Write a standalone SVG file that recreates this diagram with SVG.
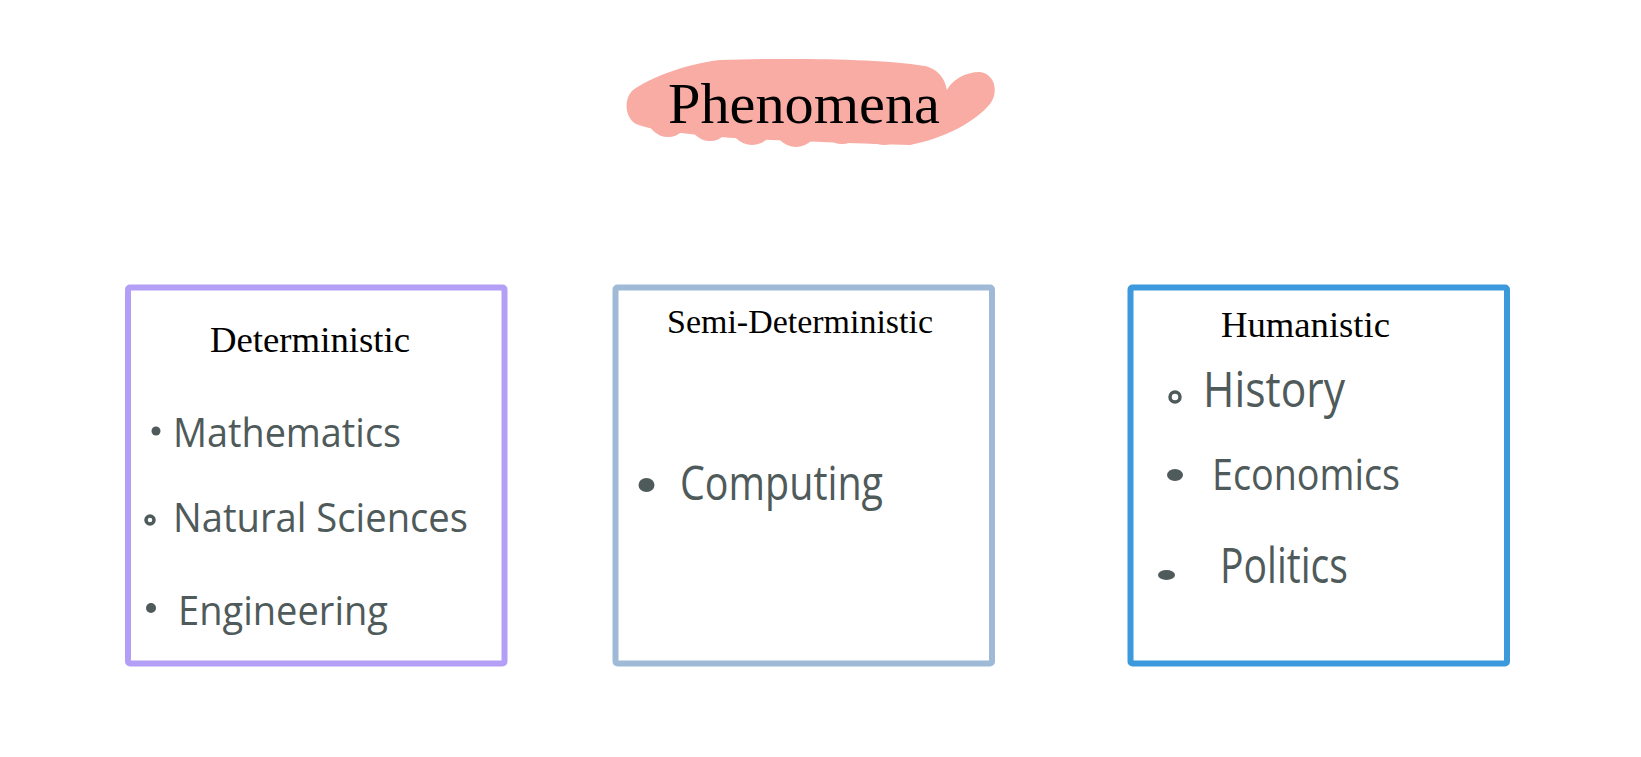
<svg xmlns="http://www.w3.org/2000/svg" width="1641" height="757" viewBox="0 0 1641 757">
<style>
.box{fill:#ffffff;stroke-width:6;}
.title{font-family:"Liberation Serif","Times New Roman",serif;fill:#000000;}
.hand{font-family:"Open Sans","Noto Sans",sans-serif;fill:#4f5a5a;}
.dot{fill:#4f5a5a;}
.ring{fill:#ffffff;stroke:#4f5a5a;stroke-width:3.5;}
.blob{fill:#f8aca4;}
</style>
<rect width="1641" height="757" fill="#ffffff"/>
<g id="phenomena">
<path class="blob" d="M 633 90 C 650 78, 685 64, 720 60 C 780 58, 880 58, 925 66 C 940 70, 945 80, 947 90 C 952 80, 965 72, 980 72 C 995 74, 999 92, 990 104 C 975 122, 945 138, 910 145 C 850 143, 760 140, 720 137 C 680 133, 650 130, 636 124 C 624 117, 624 98, 633 90 Z"/>
<circle class="blob" cx="668" cy="116" r="21"/>
<circle class="blob" cx="710" cy="120" r="21"/>
<circle class="blob" cx="752" cy="123" r="22"/>
<circle class="blob" cx="796" cy="125" r="22"/>
<circle class="blob" cx="842" cy="123" r="21"/>
<circle class="blob" cx="884" cy="123" r="22"/>
<circle class="blob" cx="745" cy="84" r="24"/>
<circle class="blob" cx="800" cy="84" r="23"/>
<circle class="blob" cx="855" cy="84" r="22"/>
<circle class="blob" cx="900" cy="86" r="22"/>
<text class="title" x="668" y="123" font-size="58" textLength="272" lengthAdjust="spacingAndGlyphs">Phenomena</text>
</g>
<g id="deterministic">
<rect class="box" x="128" y="287.5" width="376.5" height="376" rx="2" stroke="#b39ff6"/>
<text class="title" x="210" y="352" font-size="36" textLength="200" lengthAdjust="spacingAndGlyphs">Deterministic</text>
<circle class="dot" cx="156" cy="431" r="4.5"/>
<text class="hand" x="173" y="447" font-size="40" textLength="228" lengthAdjust="spacingAndGlyphs">Mathematics</text>
<circle class="ring" cx="150" cy="520" r="4"/>
<text class="hand" x="173" y="532" font-size="40" textLength="295" lengthAdjust="spacingAndGlyphs">Natural Sciences</text>
<circle class="dot" cx="151" cy="608" r="5"/>
<text class="hand" x="178" y="625" font-size="40" textLength="210" lengthAdjust="spacingAndGlyphs">Engineering</text>
</g>
<g id="semi-deterministic">
<rect class="box" x="615.5" y="287.5" width="376.5" height="376" rx="2" stroke="#9fbad7"/>
<text class="title" x="667" y="333" font-size="34" textLength="266" lengthAdjust="spacingAndGlyphs">Semi-Deterministic</text>
<ellipse class="dot" cx="646.5" cy="485" rx="8" ry="7"/>
<text class="hand" x="680" y="500" font-size="48" textLength="203" lengthAdjust="spacingAndGlyphs">Computing</text>
</g>
<g id="humanistic">
<rect class="box" x="1130.5" y="287.5" width="376.5" height="376" rx="2" stroke="#3b99dc"/>
<text class="title" x="1221" y="337" font-size="36" textLength="169" lengthAdjust="spacingAndGlyphs">Humanistic</text>
<circle class="ring" cx="1175" cy="397" r="5"/>
<text class="hand" x="1203" y="407" font-size="50" textLength="142" lengthAdjust="spacingAndGlyphs">History</text>
<ellipse class="dot" cx="1175" cy="475" rx="8" ry="6"/>
<text class="hand" x="1212" y="490" font-size="44" textLength="188" lengthAdjust="spacingAndGlyphs">Economics</text>
<ellipse class="dot" cx="1166.5" cy="575" rx="8.5" ry="5"/>
<text class="hand" x="1220" y="583" font-size="50" textLength="128" lengthAdjust="spacingAndGlyphs">Politics</text>
</g>
<g id="connectors"></g>
</svg>
